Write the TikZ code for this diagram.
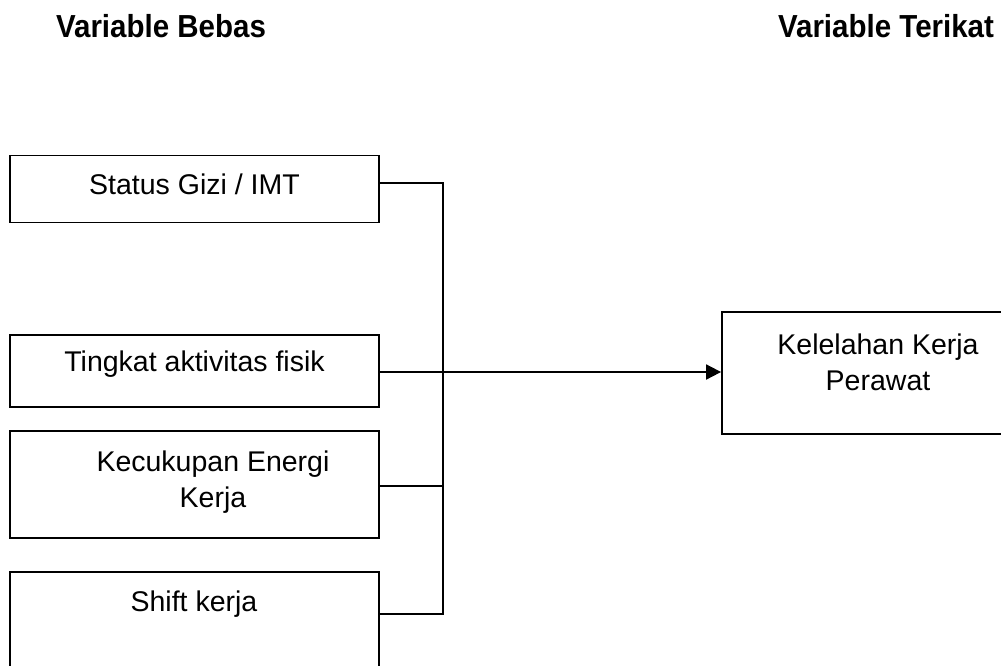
\documentclass[tikz,border=0pt]{standalone}
\usepackage{fontspec}
\setmainfont{Liberation Sans}
\usetikzlibrary{arrows.meta}
\begin{document}
\begin{tikzpicture}[x=1pt,y=-1pt,
  box/.style={draw=black,line width=1.8pt,rectangle,inner sep=0pt,fill=none},
  lbl/.style={inner sep=0pt,font=\fontsize{28.5}{36}\selectfont,align=center,anchor=base},
  hdr/.style={inner sep=0pt,font=\fontsize{29.5}{34}\selectfont\bfseries,anchor=base,yscale=1.08},
  conn/.style={line width=1.8pt,line cap=rect}]
\useasboundingbox (0,0) rectangle (1001,665);
\clip (0,0) rectangle (1001,665);
% headers
\node[hdr] (h1) at (161,37) {Variable Bebas};
\node[hdr] (h2) at (886,37) {Variable Terikat};
% boxes
\node[box,minimum width=369pt,minimum height=67pt] (b1) at (194.5,189) {};
\node[box,minimum width=369pt,minimum height=72pt] (b2) at (194.5,371) {};
\node[box,minimum width=369pt,minimum height=107pt] (b3) at (194.5,484.5) {};
\node[box,minimum width=369pt,minimum height=140pt] (b4) at (194.5,642) {};
\node[box,minimum width=300pt,minimum height=122pt] (b5) at (872,373) {};
% texts
\node[lbl] (t1) at (194.5,194) {Status Gizi / IMT};
\node[lbl] (t2) at (194.5,371) {Tingkat aktivitas fisik};
\node[lbl] (t3) at (213,507) {Kecukupan Energi\\Kerja};
\node[lbl] (t4) at (194,611) {Shift kerja};
\node[lbl] (t5) at (878,390) {Kelelahan Kerja\\Perawat};
% connectors
\coordinate (j1) at (443,183);
\coordinate (j2) at (443,372);
\coordinate (j3) at (443,486);
\coordinate (j4) at (443,614);
\draw[conn] (b1.east |- j1) -- (j1) -- (j4) -- (b4.east |- j4);
\draw[conn] (b3.east |- j3) -- (j3);
\draw[line width=1.8pt,-{Triangle[length=15pt,width=15pt]}] (b2.east |- j2) -- (b5.west |- j2);
\end{tikzpicture}
\end{document}
